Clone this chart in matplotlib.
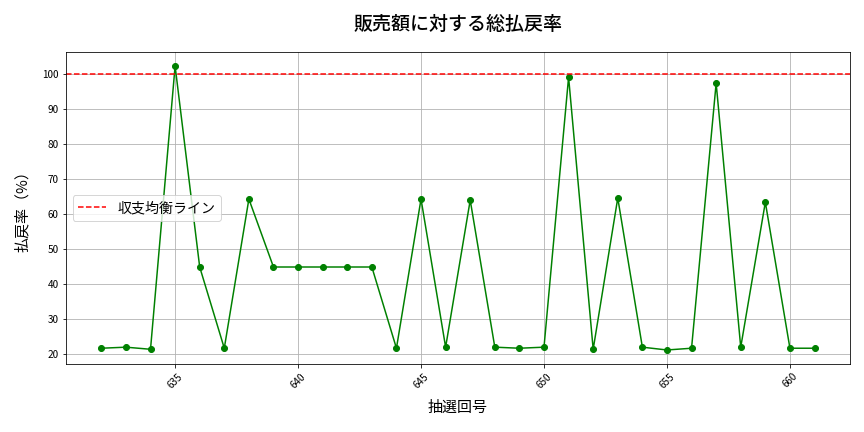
import matplotlib
matplotlib.use("Agg")
import matplotlib.pyplot as plt

plt.rcParams['font.family'] = ['Noto Sans CJK JP', 'DejaVu Sans']

# 抽選回と総払戻率(%)
draws = list(range(632, 662))
payout_rate = [21.7, 22.0, 21.4, 102.3, 44.9, 21.7, 64.3, 44.9, 44.9, 44.9,
               44.9, 44.9, 21.7, 64.3, 22.0, 64.0, 22.0, 21.7, 22.0, 99.1,
               21.4, 64.6, 22.0, 21.2, 21.7, 97.4, 22.0, 63.4, 21.7, 21.7]
breakeven = 100

fig, ax = plt.subplots(figsize=(12, 6), dpi=72)
fig.subplots_adjust(left=0.076, right=0.984, top=0.880, bottom=0.157)
ax.plot(draws, payout_rate, marker='o', color='green', markersize=6)
ax.axhline(breakeven, color='red', linestyle='--', label='収支均衡ライン')
ax.set_title('販売額に対する総払戻率', fontsize=19, pad=22, fontweight='medium')
ax.set_xlabel('抽選回号', fontsize=15, labelpad=11)
ax.set_ylabel('払戻率（%）', fontsize=15, labelpad=12)
ax.grid(True)
ax.legend(loc='center left', fontsize=14)
plt.xticks(rotation=45)
fig.savefig('out.png', dpi=72)
